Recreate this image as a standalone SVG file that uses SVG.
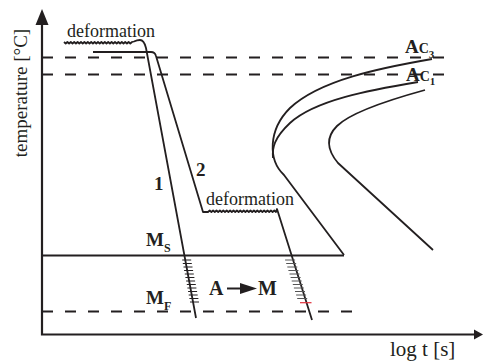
<svg xmlns="http://www.w3.org/2000/svg" width="483" height="363" viewBox="0 0 483 363">
<style>
.ln{fill:none;stroke:#231f20;stroke-width:1.8;stroke-linejoin:round;stroke-linecap:butt}
.ax{fill:none;stroke:#231f20;stroke-width:2.2}
.da{fill:none;stroke:#231f20;stroke-width:2;stroke-dasharray:11 12}
.tk{fill:none;stroke:#231f20;stroke-width:1}
.tk2{fill:none;stroke:#555;stroke-width:1}
.t{font-family:"Liberation Serif","Times New Roman",serif;fill:#231f20}
.b{font-family:"Liberation Serif","Times New Roman",serif;font-weight:bold;fill:#231f20}
</style>
<rect width="483" height="363" fill="#fff"/>
<g id="axes">
<path class="ax" d="M42 24 V334.5 H476"/>
<polygon points="42,9 35.5,25 48.5,25" fill="#231f20"/>
<polygon points="483,334.5 474,329.5 474,339.5" fill="#231f20"/>
<text class="t" font-size="19" transform="translate(27,93) rotate(-90)" text-anchor="middle">temperature [°C]</text>
<text class="t" font-size="21" x="390" y="356">log t [s]</text>
</g>
<g id="levels">
<path class="da" d="M42 57.5 H444"/>
<path class="da" d="M42 74.5 H448"/>
<path class="da" d="M42 311.5 H355"/>
<path class="ln" d="M42 255.5 H344" stroke-width="2"/>
</g>
<g id="ccurves">
<path class="ln" d="M432 59 C380 68 320 80 290 108 C268 130 268 160 284 175 L344 255"/>
<path class="ln" d="M418 82 C370 90 315 100 290 123 C274 138 272 148 273 158"/>
<path class="ln" d="M425 90 C385 101 350 113 337 126 C325 138 327 150 338 163 L433 250"/>
</g>
<g id="path1">
<path class="ln" d="M64 42 l1.7 1.5 l1.7 -1.5 l1.7 1.5 l1.7 -1.5 l1.7 1.5 l1.7 -1.5 l1.7 1.5 l1.7 -1.5 l1.7 1.5 l1.7 -1.5 l1.7 1.5 l1.7 -1.5 l1.7 1.5 l1.7 -1.5 l1.7 1.5 l1.7 -1.5 l1.7 1.5 l1.7 -1.5 l1.7 1.5 l1.7 -1.5 l1.7 1.5 l1.7 -1.5 l1.7 1.5 l1.7 -1.5 l1.7 1.5 l1.7 -1.5 l1.7 1.5 l1.7 -1.5 l1.7 1.5 l1.7 -1.5 l1.7 1.5 l1.7 -1.5 l1.7 1.5 l1.7 -1.5 l1.7 1.5 l1.7 -1.5 l1.7 1.5 l1.7 -1.5 l1.7 1.5 l1.7 -1.5 L134 41.5 Q137 40 140 40 Q144 40 146 48 L196 318"/>
<text class="t" font-size="18" x="67" y="37">deformation</text>
<text class="b" font-size="19" x="154" y="190">1</text>
<path class="tk" d="M182.2 260h9 M182.8 263.5h9 M183.5 267h9 M184.1 270.5h9 M184.8 274h9 M185.4 277.5h9 M186.1 281h9 M186.8 284.5h9 M187.4 288h9 M188.1 291.5h9 M188.7 295h9 M189.4 298.5h9 M190 302h9"/>
</g>
<g id="path2">
<path class="ln" d="M93 52 H151 Q155 52 156 56 L203 212 L208 212 l1.7 -1.5 l1.7 1.5 l1.7 -1.5 l1.7 1.5 l1.7 -1.5 l1.7 1.5 l1.7 -1.5 l1.7 1.5 l1.7 -1.5 l1.7 1.5 l1.7 -1.5 l1.7 1.5 l1.7 -1.5 l1.7 1.5 l1.7 -1.5 l1.7 1.5 l1.7 -1.5 l1.7 1.5 l1.7 -1.5 l1.7 1.5 l1.7 -1.5 l1.7 1.5 l1.7 -1.5 l1.7 1.5 l1.7 -1.5 l1.7 1.5 l1.7 -1.5 l1.7 1.5 l1.7 -1.5 l1.7 1.5 l1.7 -1.5 l1.7 1.5 l1.7 -1.5 l1.7 1.5 l1.7 -1.5 l1.7 1.5 l1.7 -1.5 l1.7 1.5 l1.7 -1.5 l1.7 1.5 L277 209 L312 320"/>
<text class="t" font-size="18" x="206" y="205">deformation</text>
<text class="b" font-size="19" x="196" y="176">2</text>
<path class="tk2" d="M285.1 260h10 M286.2 263.5h10 M287.3 267h10 M288.4 270.5h10 M289.5 274h10 M290.6 277.5h10 M291.7 281h10 M292.8 284.5h10 M293.9 288h10 M295 291.5h10 M296.1 295h10 M297.2 298.5h10"/>
<path d="M300 302.7h11.5" stroke="#e0303a" stroke-width="1.2"/>
</g>
<g id="labels">
<text class="b" font-size="19" x="146" y="246">M<tspan font-size="12" dy="6">S</tspan></text>
<text class="b" font-size="19" x="146" y="304">M<tspan font-size="12" dy="6">F</tspan></text>
<text class="b" font-size="19" x="405" y="52.5">A<tspan font-size="14">C</tspan><tspan font-size="11" dy="5">3</tspan></text>
<text class="b" font-size="19" x="406" y="81">A<tspan font-size="14">C</tspan><tspan font-size="11" dy="4">1</tspan></text>
<text class="b" font-size="20" x="209" y="295">A</text>
<path d="M227 288.5H242" stroke="#231f20" stroke-width="2"/>
<polygon points="257,288.5 240,283 240,294" fill="#231f20"/>
<text class="b" font-size="20" x="258" y="295">M</text>
</g>
</svg>
